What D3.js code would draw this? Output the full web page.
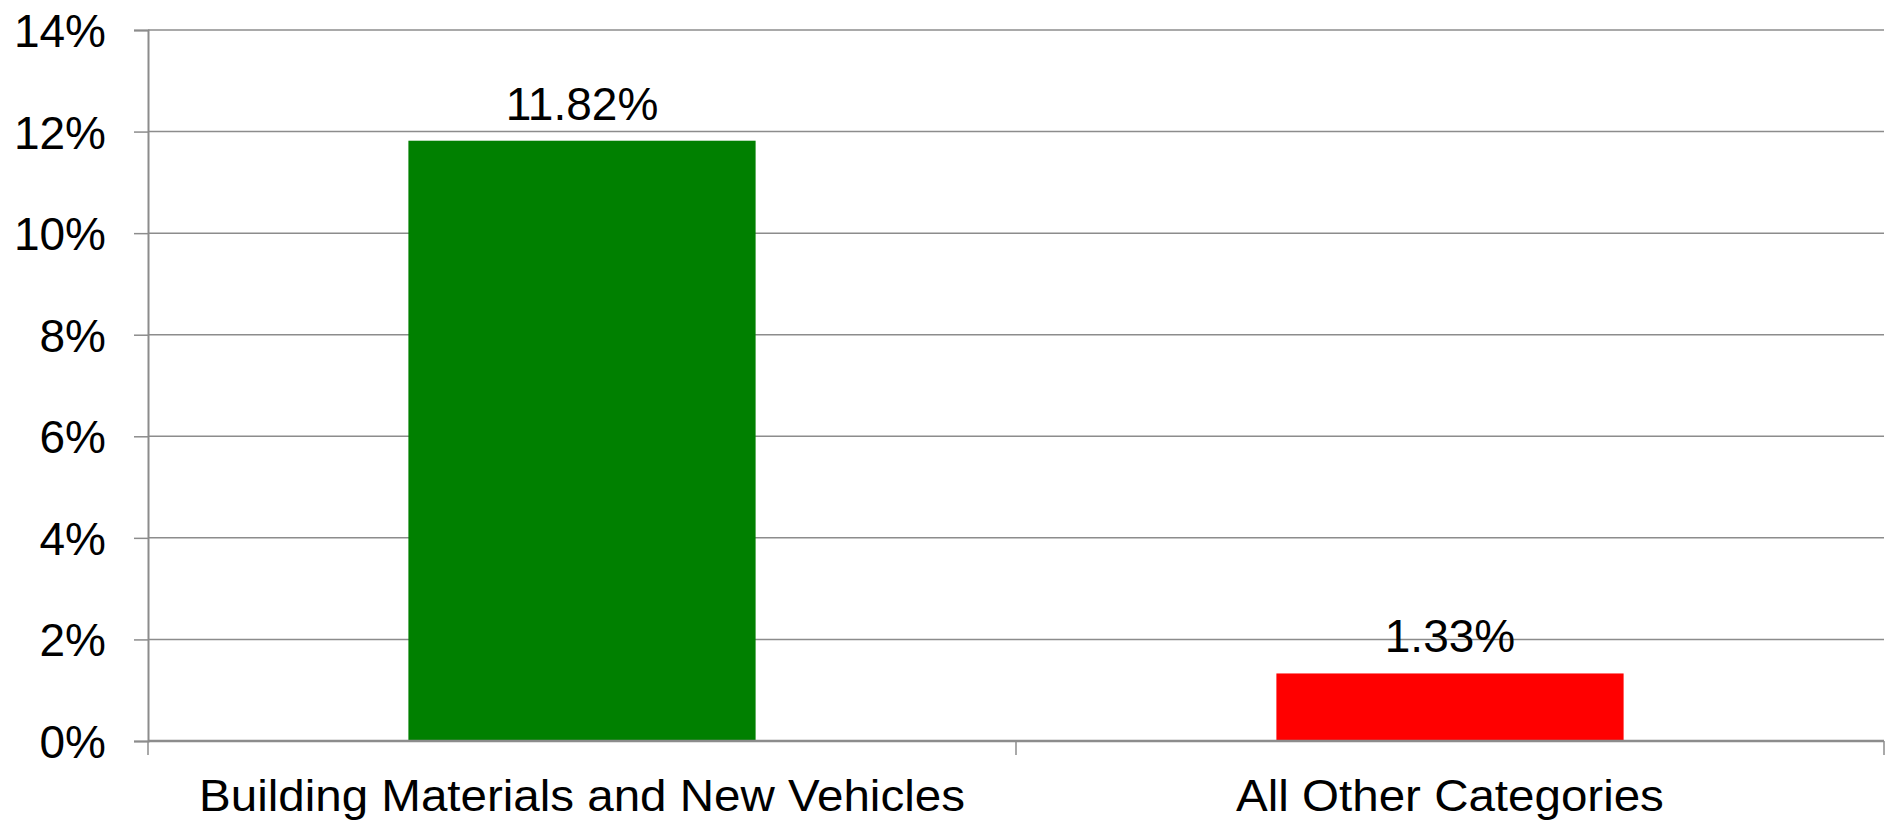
<!DOCTYPE html>
<html><head><meta charset="utf-8">
<script src="https://cdn.jsdelivr.net/npm/d3@7"></script>
<style>
html,body{margin:0;padding:0;background:#fff;}
svg{display:block;font-family:"Liberation Sans",Arial,sans-serif;}
</style></head>
<body>
<svg id="chart" width="1888" height="825"></svg>
<script>
const categories = ["Building Materials and New Vehicles", "All Other Categories"];
const values = [11.82, 1.33];
const labels = ["11.82%", "1.33%"];
const colors = ["#008000", "#ff0000"];
const yTicks = [0, 2, 4, 6, 8, 10, 12, 14];

(function () {
const svg = d3.select("#chart");
const mLeft = 148, mRight = 1884, mTop = 30, mBottom = 741;

const x = d3.scaleBand().domain(categories).range([mLeft, mRight]).paddingInner(0.6).paddingOuter(0.3);
const y = d3.scaleLinear().domain([0, 14]).range([mBottom, mTop]);
const grid = "#8c8c8c";

// gridlines
svg.append("g").selectAll("line").data(yTicks.filter(d => d > 0)).join("line")
  .attr("x1", mLeft).attr("x2", mRight)
  .attr("y1", d => y(d)).attr("y2", d => y(d))
  .attr("stroke", grid).attr("stroke-width", 1.5);

// y axis
const yAxis = d3.axisLeft(y).tickValues(yTicks).tickSize(14).tickPadding(28).tickFormat(d => d + "%");
const gy = svg.append("g").attr("transform", `translate(${mLeft},0)`).call(yAxis);
gy.select(".domain").attr("stroke", grid).attr("stroke-width", 2);
gy.selectAll(".tick line").attr("stroke", grid).attr("stroke-width", 1.5);
gy.selectAll(".tick text").attr("font-size", 46).attr("fill", "#000")
  .attr("font-family", "'Liberation Sans', Arial, sans-serif").attr("dy", "0.36em");

// bars
svg.append("g").selectAll("rect").data(values).join("rect")
  .attr("x", (d, i) => x(categories[i]))
  .attr("width", x.bandwidth())
  .attr("y", d => y(d))
  .attr("height", d => y(0) - y(d))
  .attr("fill", (d, i) => colors[i]);

// x axis (category boundary ticks)
const xEdges = [mLeft, mLeft + (mRight - mLeft) / 2, mRight];
svg.append("line").attr("x1", mLeft).attr("x2", mRight).attr("y1", mBottom).attr("y2", mBottom)
  .attr("stroke", grid).attr("stroke-width", 2.5);
svg.append("g").selectAll("line").data(xEdges).join("line")
  .attr("x1", d => d).attr("x2", d => d).attr("y1", mBottom).attr("y2", mBottom + 14)
  .attr("stroke", grid).attr("stroke-width", 1.5);
svg.append("g").selectAll("text").data(categories).join("text")
  .attr("transform", d => `translate(${x(d) + x.bandwidth() / 2},811) scale(1.08,1)`)
  .attr("text-anchor", "middle").attr("font-size", 44).attr("fill", "#000")
  .text(d => d);

// value labels
svg.append("g").selectAll("text").data(values).join("text")
  .attr("x", (d, i) => x(categories[i]) + x.bandwidth() / 2)
  .attr("y", d => y(d) - 21)
  .attr("text-anchor", "middle").attr("font-size", 46).attr("fill", "#000")
  .text((d, i) => labels[i]);
})();
</script>
</body></html>
